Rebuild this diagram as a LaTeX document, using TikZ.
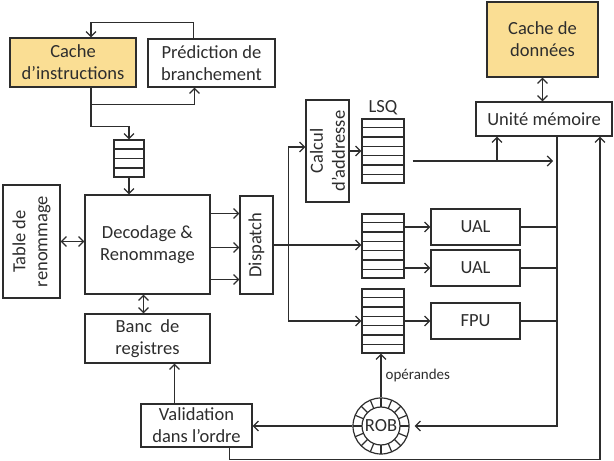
\documentclass[tikz,border=0pt]{standalone}
\usepackage{fontspec}
\setmainfont{Carlito}
\usetikzlibrary{arrows.meta,calc}
\definecolor{jaune}{RGB}{250,222,148}
\definecolor{trait}{RGB}{45,45,45}

\begin{document}
\begin{tikzpicture}[x=1pt, y=1pt, >={Straight Barb[length=5pt,width=10pt]}, line width=1.2pt, color=trait,
  every node/.style={font=\fontsize{18.5}{22}\selectfont},
  bloc/.style={draw, align=center, inner sep=1pt},
  cache/.style={bloc, fill=jaune},
  fifo/.style={draw, minimum width=42pt, minimum height=64pt, inner sep=0pt}]

\useasboundingbox (0,0) rectangle (614,461);

% Cache et prediction
\node[cache, minimum width=126pt, minimum height=49pt] (cacheI) at (73,398.5) {Cache\\d’instructions};
\node[bloc, minimum width=127pt, minimum height=48pt] (pred) at (211.5,398) {Prédiction de\\branchement};

% File d'instructions
\node[fifo, minimum width=30pt, minimum height=37pt] (fq) at (129,302.5) {};

% Decodage
\node[bloc, minimum width=125pt, minimum height=99pt] (decode) at (147.5,216.5) {Decodage \&\\Renommage};
\node[bloc, rotate=90, minimum width=113pt, minimum height=57pt] (table) at (31.5,219.5) {Table de\\renommage};
\node[bloc, minimum width=125pt, minimum height=49pt] (banc) at (147.5,122.5) {Banc\ \ de\\registres};
\node[bloc, rotate=90, minimum width=98pt, minimum height=33pt] (dispatch) at (256.5,216) {Dispatch};

% Memoire
\node[bloc, rotate=90, minimum width=102pt, minimum height=43pt] (calcul) at (327.5,310) {Calcul\\d’addresse};
\node[fifo] (lsq) at (383,310) {};
\node[anchor=base, inner sep=0pt] (lsqlab) at ([yshift=6pt]lsq.north) {LSQ};
\node[bloc, minimum width=136pt, minimum height=34pt] (mem) at (544,342) {Unité mémoire};
\node[cache, minimum width=111pt, minimum height=75pt] (cacheD) at (542.5,421.5) {Cache de\\données};

% Unites de calcul
\node[fifo] (qual) at (383,215) {};
\node[fifo] (qfpu) at (383,140) {};
\node[bloc, minimum width=89pt, minimum height=36pt] (ual1) at (475.5,234) {UAL};
\node[bloc, minimum width=89pt, minimum height=36pt] (ual2) at (475.5,193) {UAL};
\node[bloc, minimum width=89pt, minimum height=36pt] (fpu) at (475.5,140) {FPU};

% ROB et validation
\node[draw, circle, minimum size=56pt, inner sep=0pt] (rob) at (381,35) {ROB};
\node[bloc, minimum width=111pt, minimum height=43pt] (valid) at (196.5,35.5) {Validation\\dans l’ordre};

% Cases des files
\foreach \i in {1,2,3}
  \draw ($(fq.north west)!\i/4!(fq.south west)$) -- ($(fq.north east)!\i/4!(fq.south east)$);
\foreach \f in {lsq,qual,qfpu}
  \foreach \i in {1,...,6}
    \draw ($(\f.north west)!\i/7!(\f.south west)$) -- ($(\f.north east)!\i/7!(\f.south east)$);

% Anneau du ROB
\draw (rob.center) circle (19pt);
\foreach \a in {0,22.5,...,337.5}
  \draw (rob.center) ++(\a:19pt) -- ++(\a:9pt);

% Boucle de prediction
\draw[->] ([xshift=-18pt]pred.north) -- ++(0,16) -| ([xshift=18pt]cacheI.north);
\draw[->] ([xshift=18pt]cacheI.south) -- ++(0,-17) -| ([xshift=-17pt]pred.south);
\draw[->] ([xshift=18pt]cacheI.south) -- ++(0,-39) -| (fq.north);
\draw[->] (fq.south) -- (fq.south |- decode.north);

% Decodage et dispatch
\draw[<->] (table.south) -- (table.south -| decode.west);
\draw[<->] ([xshift=-4pt]decode.south) -- ([xshift=-4pt]banc.north);
\foreach \dy in {31,-3,-35} {
  \coordinate (d) at ([yshift=\dy pt]decode.east);
  \draw[->] (d) -- (d -| dispatch.north);
}
\coordinate (split) at ([xshift=15pt]dispatch.south);
\draw[->] (dispatch.south) -- (dispatch.south -| qual.west);
\draw[->] (split) |- ([yshift=4pt]calcul.north);
\draw[->] (split) |- (qfpu.west);

% Acces memoire
\draw[->] (calcul.south) -- (lsq.west);
\draw[<->] (cacheD.south) -- (cacheD.south |- mem.north);
\coordinate (bus) at ([xshift=13pt]mem.south);
\coordinate (lsqout) at ([xshift=8pt,yshift=-10pt]lsq.east);
\coordinate (memin) at ([xshift=-47pt]mem.south);
\draw[->, shorten >=4pt] (lsqout) -- (lsqout -| bus);
\draw[->] (lsqout -| memin) -- (memin);

% Unites de calcul
\draw[->] (qual.east |- ual1.west) -- (ual1.west);
\draw[->] (qual.east |- ual2.west) -- (ual2.west);
\draw[->] (qfpu.east) -- (qfpu.east -| fpu.west);
\foreach \u in {ual1,ual2,fpu}
  \draw (\u.east) -- (\u.east -| bus);
\draw[->, shorten >=5pt] (bus) |- (rob.east);

% Validation
\draw[->] (rob.north) -- (rob.north |- qfpu.south)
  node[midway, right, inner sep=4pt, font=\fontsize{15}{18}\selectfont] (op) {opérandes};
\draw[->] (rob.west) -- (rob.west -| valid.east);
\coordinate (vb) at ([xshift=-22pt]valid.north);
\draw[->] (vb) -- (vb |- banc.south);
\draw[->] ([xshift=33pt]valid.south) -- ++(0,-12) -| ([xshift=56pt]mem.south);

\end{tikzpicture}
\end{document}
